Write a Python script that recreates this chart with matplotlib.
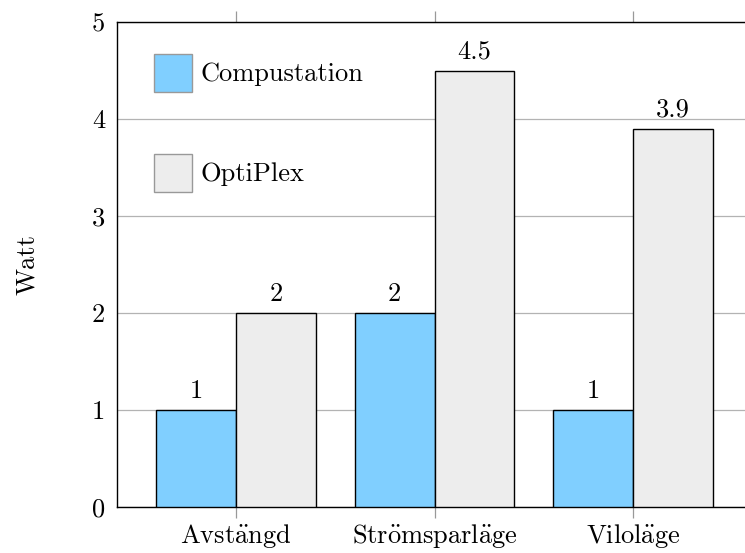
import matplotlib
matplotlib.use("Agg")
import matplotlib.pyplot as plt
import numpy as np

categories = ["Avstängd", "Strömsparläge", "Viloläge"]
series_names = ["Compustation", "OptiPlex"]
compustation = [1, 2, 1]
optiplex = [2, 4.5, 3.9]
label_compustation = ["1", "2", "1"]
label_optiplex = ["2", "4.5", "3.9"]
yticks = [0, 1, 2, 3, 4, 5]

plt.rcParams['font.family'] = ['cmr10', 'DejaVu Serif']
plt.rcParams['mathtext.fontset'] = 'cm'
plt.rcParams['axes.unicode_minus'] = False
FS = 19


def cm_text(s):
    # render umlauts in Computer Modern via mathtext accents
    if not any(c in s for c in "äöÄÖ"):
        return s
    t = (s.replace("ä", r"\ddot{a}").replace("ö", r"\ddot{o}")
          .replace("Ä", r"\ddot{A}").replace("Ö", r"\ddot{O}"))
    return r"$\mathrm{" + t + "}$"


W, H = 745, 553
fig = plt.figure(figsize=(W/100, H/100), dpi=100)
ax = fig.add_axes([117/W, 46/H, (752-117)/W, (507-22)/H])

x = np.arange(len(categories))
bw = 0.403
b1 = ax.bar(x - bw/2, compustation, bw, color='#80CFFF', edgecolor='black', linewidth=1.0, zorder=3, label=series_names[0])
b2 = ax.bar(x + bw/2, optiplex, bw, color='#EDEDED', edgecolor='black', linewidth=1.0, zorder=3, label=series_names[1])

for rect, lab in zip(b1, label_compustation):
    ax.annotate(lab, (rect.get_x() + rect.get_width()/2, rect.get_height()),
                xytext=(0, 5), textcoords='offset points', ha='center', va='bottom', fontsize=FS)
for rect, lab in zip(b2, label_optiplex):
    ax.annotate(lab, (rect.get_x() + rect.get_width()/2, rect.get_height()),
                xytext=(0, 5), textcoords='offset points', ha='center', va='bottom', fontsize=FS)

ax.set_xlim(-0.6, 2.6)
ax.set_ylim(0, 5)
ax.set_yticks(yticks)
ax.set_yticklabels([str(t) for t in yticks], fontsize=FS)
ax.set_xticks(x)
ax.set_xticklabels([cm_text(c) for c in categories], fontsize=FS)
ax.yaxis.grid(True, color='#b3b3b3', linewidth=0.9, zorder=0)
ax.set_axisbelow(True)
ax.tick_params(axis='x', which='both', top=True, bottom=True, direction='out', length=8,
               color='#999999', width=0.9, pad=3)
ax.tick_params(axis='y', which='both', left=False, right=False, pad=5)
for s in ax.spines.values():
    s.set_linewidth(1.0)
    s.set_color('black')

ax.set_ylabel("Watt", fontsize=FS, labelpad=38)

leg = ax.legend(loc='upper left', bbox_to_anchor=(0.058, 0.935), frameon=False, fontsize=FS,
                handlelength=1.44, handleheight=1.85, labelspacing=2.35, handletextpad=0.33,
                borderaxespad=0, borderpad=0)
for p in leg.get_patches():
    p.set_edgecolor('#999999')

fig.savefig("out.png", dpi=100)
